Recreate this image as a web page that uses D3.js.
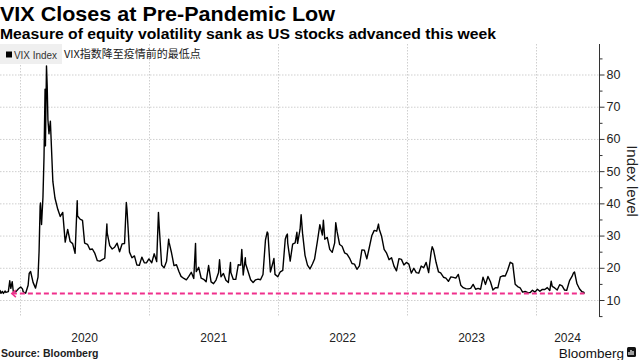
<!DOCTYPE html>
<html><head><meta charset="utf-8">
<script src="https://cdn.jsdelivr.net/npm/d3@7"></script>
<style>body{margin:0;background:#fff} svg{display:block;font-family:"Liberation Sans",Arial,sans-serif}</style>
</head><body><svg id="c" width="640" height="360"></svg>
<script>
// ---- data (VIX closes) ----
const dates = [
"2019-11-05","2019-11-08","2019-11-12","2019-11-15","2019-11-20","2019-11-22","2019-11-29","2019-12-03","2019-12-06","2019-12-10","2019-12-13","2019-12-20","2019-12-27","2019-12-31",
"2020-01-03","2020-01-08","2020-01-10","2020-01-17","2020-01-24","2020-01-27","2020-01-31","2020-02-07","2020-02-14","2020-02-21","2020-02-24","2020-02-27","2020-02-28","2020-03-02","2020-03-06","2020-03-09","2020-03-12","2020-03-13","2020-03-16","2020-03-18","2020-03-20","2020-03-23","2020-03-27","2020-04-03","2020-04-09","2020-04-17","2020-04-24","2020-05-01","2020-05-08","2020-05-15","2020-05-22","2020-05-29","2020-06-05","2020-06-11","2020-06-12","2020-06-19","2020-06-26","2020-07-02","2020-07-10","2020-07-17","2020-07-24","2020-07-31","2020-08-07","2020-08-14","2020-08-21","2020-08-28","2020-09-03","2020-09-04","2020-09-11","2020-09-18","2020-09-25","2020-10-02","2020-10-09","2020-10-16","2020-10-23","2020-10-28","2020-10-30","2020-11-06","2020-11-13","2020-11-20","2020-11-27","2020-12-04","2020-12-11","2020-12-18","2020-12-24","2020-12-31",
"2021-01-08","2021-01-15","2021-01-22","2021-01-27","2021-01-29","2021-02-05","2021-02-12","2021-02-19","2021-02-25","2021-02-26","2021-03-05","2021-03-12","2021-03-19","2021-03-26","2021-04-01","2021-04-09","2021-04-16","2021-04-23","2021-04-30","2021-05-07","2021-05-12","2021-05-14","2021-05-21","2021-05-28","2021-06-04","2021-06-11","2021-06-18","2021-06-25","2021-07-02","2021-07-09","2021-07-16","2021-07-19","2021-07-23","2021-07-30","2021-08-06","2021-08-13","2021-08-19","2021-08-20","2021-08-27","2021-09-03","2021-09-10","2021-09-17","2021-09-20","2021-09-24","2021-09-30","2021-10-01","2021-10-08","2021-10-15","2021-10-22","2021-10-29","2021-11-05","2021-11-12","2021-11-19","2021-11-26","2021-12-01","2021-12-03","2021-12-10","2021-12-17","2021-12-20","2021-12-23","2021-12-31",
"2022-01-07","2022-01-14","2022-01-21","2022-01-24","2022-01-27","2022-01-28","2022-02-04","2022-02-11","2022-02-18","2022-02-23","2022-02-25","2022-03-04","2022-03-07","2022-03-11","2022-03-18","2022-03-25","2022-04-01","2022-04-08","2022-04-14","2022-04-22","2022-04-29","2022-05-06","2022-05-09","2022-05-13","2022-05-20","2022-05-27","2022-06-03","2022-06-10","2022-06-13","2022-06-17","2022-06-24","2022-07-01","2022-07-08","2022-07-15","2022-07-22","2022-07-29","2022-08-05","2022-08-12","2022-08-19","2022-08-26","2022-09-02","2022-09-09","2022-09-16","2022-09-23","2022-09-30","2022-10-07","2022-10-12","2022-10-14","2022-10-21","2022-10-28","2022-11-04","2022-11-11","2022-11-18","2022-11-25","2022-12-02","2022-12-09","2022-12-16","2022-12-23","2022-12-30",
"2023-01-06","2023-01-13","2023-01-20","2023-01-27","2023-02-03","2023-02-10","2023-02-17","2023-02-24","2023-03-03","2023-03-10","2023-03-13","2023-03-17","2023-03-24","2023-03-31","2023-04-06","2023-04-14","2023-04-21","2023-04-28","2023-05-05","2023-05-12","2023-05-19","2023-05-26","2023-06-02","2023-06-09","2023-06-16","2023-06-23","2023-06-30","2023-07-07","2023-07-14","2023-07-21","2023-07-28","2023-08-04","2023-08-11","2023-08-18","2023-08-25","2023-09-01","2023-09-08","2023-09-15","2023-09-22","2023-09-29","2023-10-06","2023-10-13","2023-10-20","2023-10-27","2023-11-03","2023-11-10","2023-11-17","2023-11-24","2023-12-01","2023-12-08","2023-12-15","2023-12-22","2023-12-29",
"2024-01-05","2024-01-12","2024-01-19","2024-01-26","2024-02-02","2024-02-09","2024-02-13","2024-02-16","2024-02-23","2024-03-01","2024-03-08","2024-03-15","2024-03-22","2024-03-28","2024-04-05","2024-04-12","2024-04-16","2024-04-19","2024-04-26","2024-05-03","2024-05-10","2024-05-15","2024-05-17"
];
const vix = [
13.10,12.07,12.68,12.05,12.78,12.34,12.62,15.96,13.62,15.68,12.63,12.51,13.43,13.78,
14.02,13.45,12.56,12.10,14.56,18.23,18.84,15.47,13.68,17.08,25.03,39.16,40.11,33.42,41.94,54.46,75.47,57.83,82.69,76.45,66.04,61.59,65.54,46.80,41.67,38.15,35.93,37.19,27.98,31.89,28.16,27.51,24.52,40.79,36.09,35.12,34.73,27.68,27.29,25.68,25.84,24.46,22.21,22.05,22.54,22.96,33.60,30.75,26.87,25.83,26.38,27.63,25.00,27.41,27.55,40.28,38.02,24.86,23.10,23.70,20.84,20.79,23.31,21.57,21.53,22.75,
21.56,24.34,21.91,37.21,33.09,20.87,19.97,22.05,28.89,27.95,24.66,20.69,20.95,18.86,17.33,16.69,16.25,17.33,18.61,16.69,27.59,18.81,20.15,16.76,16.42,15.65,20.70,15.62,15.07,16.18,18.45,22.50,17.20,18.24,16.15,15.45,21.67,18.56,16.39,16.41,20.95,20.81,25.71,17.75,23.14,21.15,18.77,16.30,15.43,16.26,16.48,16.29,17.91,28.62,31.12,30.67,18.69,21.57,22.87,17.96,17.22,
18.76,19.19,28.85,29.90,30.49,27.66,22.09,27.36,27.75,31.02,27.59,31.98,36.45,30.75,23.87,20.81,19.63,21.16,22.70,28.21,33.40,30.19,34.75,28.87,29.43,25.72,24.79,27.75,34.02,31.13,27.23,26.70,24.64,24.23,23.03,21.33,21.15,19.53,20.60,25.56,25.47,22.79,26.30,29.92,31.62,31.36,33.57,32.02,29.69,25.75,24.55,22.52,23.12,20.50,19.06,22.83,22.62,20.87,21.67,
21.13,18.35,19.85,18.51,18.33,20.53,20.02,21.67,18.49,24.80,26.52,25.51,21.71,18.70,18.40,17.07,16.77,15.78,17.19,17.03,16.81,17.95,14.60,13.83,13.54,13.44,13.59,14.83,13.34,13.60,13.33,17.10,14.84,17.30,15.68,13.09,13.84,13.79,17.20,17.52,17.45,19.32,21.71,21.27,14.91,14.17,13.80,12.46,12.63,12.35,12.28,13.03,12.45,
13.35,12.70,13.30,13.26,13.85,12.93,15.85,14.24,13.75,13.11,14.74,14.41,13.06,13.01,16.03,17.31,18.40,18.71,15.03,13.49,12.55,12.45,11.99
];
const yearStarts = ["2020-01-01","2021-01-01","2022-01-01","2023-01-01","2024-01-01"];
const yearLabels = ["2020","2021","2022","2023","2024"];
const yMajor = [10,20,30,40,50,60,70,80];
const yMinor = [5,15,25,35,45,55,65,75,85];
const lowLevel = 11.99;
const lowStart = "2019-12-09";
const lowEnd = "2024-05-17";

// ---- layout ----
const parse = d3.timeParse("%Y-%m-%d");
const svg = d3.select("#c");
const plotL = 0, plotR = 599, plotT = 44, plotB = 317;
const x = d3.scaleTime().domain([parse("2020-01-01"), parse("2024-01-01")]).range([20, 536]);
const y = d3.scaleLinear().domain([10, 80]).range([300, 74.5]);
const data = dates.map((d,i)=>({d:parse(d), v:vix[i]}));

// title
svg.append("text").attr("x",0).attr("y",21).attr("font-size",21).attr("font-weight","bold").attr("fill","#000")
  .attr("textLength",335).attr("lengthAdjust","spacingAndGlyphs").text("VIX Closes at Pre-Pandemic Low");
svg.append("text").attr("x",0).attr("y",38.5).attr("font-size",14.5).attr("font-weight","bold").attr("fill","#000")
  .attr("textLength",496).attr("lengthAdjust","spacingAndGlyphs").text("Measure of equity volatility sank as US stocks advanced this week");

// gridlines
const grid = svg.append("g").attr("stroke","#cfcfcf").attr("stroke-width",1).attr("stroke-dasharray","1.5,1.5");
grid.selectAll("line.h").data(yMajor).join("line").attr("class","h")
  .attr("x1",plotL).attr("x2",plotR).attr("y1",d=>y(d)+0.5).attr("y2",d=>y(d)+0.5);
grid.selectAll("line.v").data(yearStarts).join("line").attr("class","v")
  .attr("x1",d=>Math.round(x(parse(d)))+0.5).attr("x2",d=>Math.round(x(parse(d)))+0.5).attr("y1",plotT).attr("y2",plotB);

// legend
svg.append("rect").attr("x",0).attr("y",44).attr("width",62).attr("height",20).attr("fill","#efefef");
svg.append("rect").attr("x",6).attr("y",51.5).attr("width",6).attr("height",6).attr("fill","#000");
svg.append("text").attr("x",14).attr("y",58.5).attr("font-size",11).attr("fill","#333")
  .attr("textLength",43).attr("lengthAdjust","spacingAndGlyphs").text("VIX Index");
svg.append("text").attr("x",64).attr("y",58).attr("font-size",11).attr("fill","#222")
  .attr("font-family","'Noto Sans CJK SC','Liberation Sans',sans-serif").text("VIX指数降至疫情前的最低点");

// clip
svg.append("clipPath").attr("id","clip").append("rect").attr("x",plotL).attr("y",plotT).attr("width",plotR-plotL).attr("height",plotB-plotT);

// line
const line = d3.line().x(d=>x(d.d)).y(d=>y(d.v)).curve(d3.curveLinear);
svg.append("path").datum(data).attr("clip-path","url(#clip)")
  .attr("fill","none").attr("stroke","#000").attr("stroke-width",1.4).attr("stroke-linejoin","round").attr("d",line);

// low level dashed line
const lowData = [{d:parse(lowStart),v:lowLevel},{d:parse(lowEnd),v:lowLevel}];
svg.append("path").datum(lowData).attr("fill","none").attr("stroke","#f0308c").attr("stroke-width",2)
  .attr("stroke-dasharray","5,3").attr("d",line);
const lx = x(parse(lowStart)), ly = y(lowLevel);
svg.append("path").attr("d",`M${lx+4},${ly-3.5}L${lx},${ly}L${lx+4},${ly+3.5}`)
  .attr("fill","none").attr("stroke","#f0308c").attr("stroke-width",1.6);

// y axis
svg.append("line").attr("x1",plotR+0.5).attr("x2",plotR+0.5).attr("y1",plotT).attr("y2",plotB).attr("stroke","#333").attr("stroke-width",1);
const ax = svg.append("g").attr("transform",`translate(${plotR+0.5},0)`)
  .call(d3.axisRight(y).tickValues(yMajor).tickSize(5).tickPadding(2).tickFormat(d3.format("d")));
ax.select(".domain").remove();
ax.selectAll("line").attr("stroke","#333");
ax.selectAll("text").attr("font-size",12.5).attr("fill","#222").attr("font-family","'Liberation Sans',Arial,sans-serif");
const axm = svg.append("g").attr("transform",`translate(${plotR+0.5},0)`)
  .call(d3.axisRight(y).tickValues(yMinor.filter(v=>y(v)>=plotT && y(v)<=plotB)).tickSize(3).tickFormat(""));
axm.select(".domain").remove();
axm.selectAll("line").attr("stroke","#333");

svg.append("text").attr("transform",`translate(627,181) rotate(90)`).attr("text-anchor","middle")
  .attr("font-size",15).attr("fill","#222").text("Index level");

// x labels
const endDate = x.invert(plotR);
svg.append("g").selectAll("text").data(yearStarts).join("text")
  .attr("x",(d,i)=>{
    const s = parse(d); const e = i<yearStarts.length-1 ? parse(yearStarts[i+1]) : endDate;
    return (x(s)+Math.min(x(e),plotR))/2;
  })
  .attr("y",342).attr("text-anchor","middle").attr("font-size",12).attr("fill","#222")
  .text((d,i)=>yearLabels[i]);

// footer
svg.append("text").attr("x",1).attr("y",357).attr("font-size",10.5).attr("font-weight","bold").attr("fill","#222").text("Source: Bloomberg");
svg.append("text").attr("x",624).attr("y",358).attr("text-anchor","end").attr("font-size",13.5).attr("fill","#111").text("Bloomberg");
svg.append("rect").attr("x",627).attr("y",347).attr("width",9).attr("height",10).attr("rx",1.5).attr("fill","#111");
svg.append("path").attr("d","M629,355V352M631,355V350M633,355V351").attr("stroke","#fff").attr("stroke-width",1.2);
</script></body></html>
